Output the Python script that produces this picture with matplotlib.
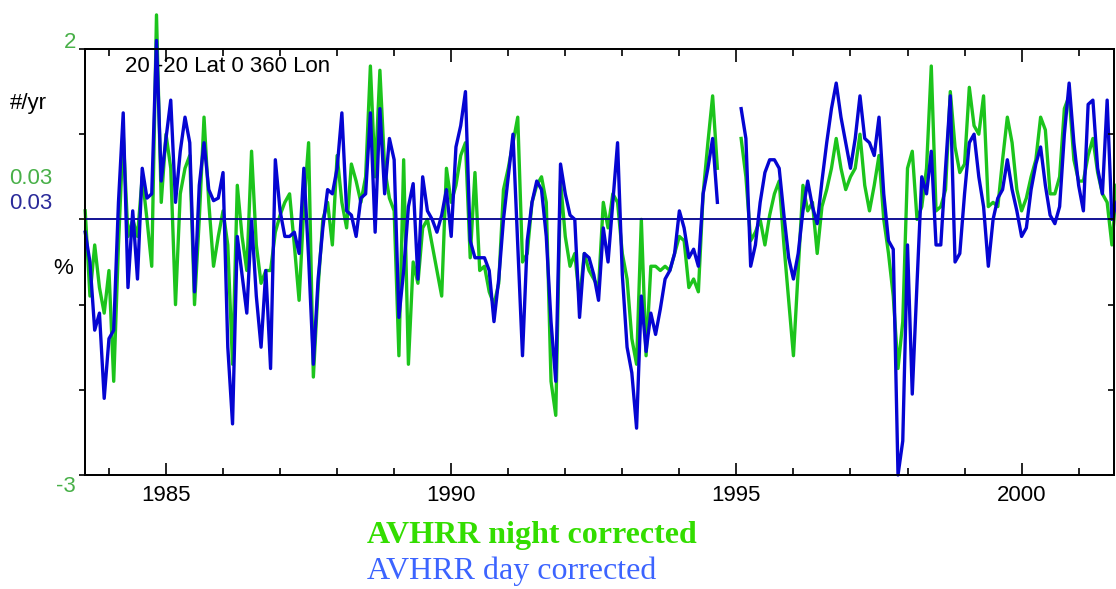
import numpy as np
import matplotlib.pyplot as plt
from matplotlib.ticker import MultipleLocator

# monthly anomalies, first value = Aug 1983
night = [0.1, -0.9, -0.3, -0.8, -1.1, -0.6, -1.9, -0.3, 1.0, -0.2, 0.0, -0.2, 0.5, 0.0, -0.55,
         2.4, 0.2, 1.0, 0.6, -1.0, 0.3, 0.6, 0.75, -1.0, 0.0, 1.2, 0.2, -0.55, -0.2, 0.1,
         -0.3, -1.7, 0.4, -0.2, -0.6, 0.8, -0.3, -0.75, -0.6, -0.6, -0.15, 0.05, 0.2, 0.3, -0.3,
         -0.95, 0.15, 0.9, -1.85, -0.8, 0.0, 0.2, -0.3, 0.75, 0.2, -0.1, 0.65, 0.45, 0.2, 0.5,
         1.8, 0.5, 1.75, 0.6, 0.25, 0.1, -1.6, 0.7, -1.7, -0.5, -0.75, -0.1, 0.0, -0.3, -0.6,
         -0.9, 0.6, 0.2, 0.4, 0.75, 0.9, -0.45, 0.55, -0.6, -0.55, -0.85, -1.0, -0.75,
         0.35, 0.6, 0.9, 1.2, -0.5, -0.4, 0.2, 0.4, 0.5, 0.2, -1.9, -2.3, 0.45, -0.2, -0.55,
         -0.4, -0.95, -0.4, -0.6, -0.7, -0.8, 0.2, -0.1, 0.3, 0.2, -0.4, -0.7, -1.4, -1.7, 0.0,
         -1.6, -0.55, -0.55, -0.6, -0.55, -0.6, -0.4, -0.2, -0.25, -0.8, -0.7, -0.85, 0.3, 0.9,
         1.45, 0.6,
         np.nan, np.nan, np.nan, np.nan,
         0.95, 0.5, -0.25, -0.15, 0.0, -0.3, 0.05, 0.3, 0.45, -0.3, -0.95, -1.6, -0.6, 0.4,
         0.1, 0.2, -0.4, 0.15, 0.35, 0.6, 0.95, 0.6, 0.35, 0.5, 0.6, 1.0, 0.4, 0.1, 0.4, 0.75,
         0.0, -0.4, -0.9, -1.75, -1.2, 0.6,
         0.8, 0.0, 0.15, 0.6, 1.8, 0.1, 0.15, 0.35, 1.5, 0.85, 0.55, 0.65, 1.55, 1.1, 1.0,
         1.45, 0.15, 0.2, 0.15, 0.7, 1.2, 0.9, 0.35, 0.1, 0.25, 0.5, 0.7, 1.2, 1.05, 0.3, 0.3,
         0.5, 1.3, 1.45, 0.7, 0.45, 0.45, 0.75, 0.95, 0.55, 0.3, 0.2, -0.3, 0.4]

day = [-0.15, -0.5, -1.3, -1.1, -2.1, -1.4, -1.3, 0.2, 1.25, -0.8, 0.1, -0.7, 0.6, 0.25, 0.3,
       2.1, 0.45, 0.95, 1.4, 0.2, 0.8, 1.2, 0.9, -0.85, 0.4, 0.9, 0.35, 0.22, 0.25, 0.55,
       -1.5, -2.4, -0.2, -0.65, -1.1, 0.0, -0.9, -1.5, -0.6, -1.75, 0.7, 0.1, -0.2, -0.2, -0.15,
       -0.4, 0.6, -0.45, -1.7, -0.7, -0.1, 0.35, 0.3, 0.6, 1.25, 0.1, 0.05, -0.2, 0.25, 0.3,
       1.25, -0.15, 1.3, 0.3, 0.95, 0.7, -1.15, -0.6, 0.15, 0.42, -0.7, 0.5, 0.1, 0.0, -0.15,
       0.05, 0.35, -0.2, 0.85, 1.1, 1.5, -0.25, -0.45, -0.45, -0.45, -0.6, -1.2, -0.7,
       0.0, 0.5, 1.0, -0.3, -1.6, -0.25, 0.2, 0.45, 0.35, -0.2, -1.2, -1.9, 0.65, 0.3, 0.05,
       0.0, -1.15, -0.4, -0.45, -0.65, -0.95, -0.1, -0.5, 0.2, 0.9, -0.65, -1.5, -1.8, -2.45,
       -0.9, -1.55, -1.1, -1.35, -1.05, -0.7, -0.6, -0.4, 0.1, -0.1, -0.45, -0.35, -0.55, 0.3,
       0.6, 0.95, 0.2,
       np.nan, np.nan, np.nan, np.nan,
       1.3, 0.95, -0.55, -0.3, 0.2, 0.55, 0.7, 0.7, 0.6, 0.05, -0.45, -0.7, -0.4, 0.1, 0.45,
       0.15, -0.05, 0.45, 0.9, 1.3, 1.6, 1.2, 0.9, 0.6, 0.95, 1.45, 0.95, 0.9, 0.75, 1.2, 0.3,
       -0.25, -0.35, -3.0, -2.6, -0.3,
       -2.05, -0.75, 0.5, 0.3, 0.8, -0.3, -0.3, 0.6, 1.45, -0.5, -0.4, 0.3, 0.9, 1.0, 0.5,
       0.15, -0.55, 0.0, 0.25, 0.35, 0.7, 0.35, 0.1, -0.2, -0.1, 0.35, 0.65, 0.85, 0.4, 0.05,
       -0.05, 0.15, 1.0, 1.6, 0.9, 0.4, 0.1, 1.35, 1.4, 0.6, 0.3, 1.4, 0.0, 0.2]

years = 1983 + 7 / 12 + np.arange(len(day)) / 12
major_years = [1985, 1990, 1995, 2000]

W, H = 1116, 589


def fpos(x, y):
    # pixel position -> figure fraction
    return x / W, 1 - y / H


plt.rcParams['font.family'] = ['Liberation Sans', 'DejaVu Sans']

fig = plt.figure(figsize=(W / 100, H / 100), dpi=100)
ax = fig.add_axes([85 / W, 1 - 475 / H, (1114 - 85) / W, (475 - 49) / H])

ax.plot(years, night, color='#1cc41c', lw=2.4, clip_on=False, zorder=3)
ax.axhline(0, color='#00008b', lw=1.3, zorder=4)
ax.plot(years, day, color='#0505d2', lw=2.4, clip_on=False, zorder=5)

ax.set_xlim(1983.58, 2001.62)
ax.set_ylim(-3, 2)
ax.set_xticks(major_years)
ax.xaxis.set_minor_locator(MultipleLocator(1))
ax.set_yticks(range(-3, 3))
ax.set_yticklabels([])
ax.tick_params(axis='x', which='major', direction='in', length=9, width=1.2,
               top=True, labelsize=16, pad=7)
ax.tick_params(axis='x', which='minor', direction='in', length=5, width=1.2, top=True)
ax.tick_params(axis='y', direction='out', length=4.5, width=1.2)

# inward ticks on the right side
ax2 = ax.twinx()
ax2.set_ylim(-3, 2)
ax2.set_yticks(range(-3, 3))
ax2.set_yticklabels([])
ax2.tick_params(axis='y', direction='in', length=4, width=1.2)

for a in (ax, ax2):
    for s in a.spines.values():
        s.set_linewidth(1.3)

ax.text(fpos(125, 0)[0], fpos(0, 67)[1], '20 -20 Lat 0 360 Lon', transform=fig.transFigure,
        fontsize=16, va='center', ha='left')

fig.text(*fpos(76, 42), '2', color='#48b048', fontsize=16, ha='right', va='center')
fig.text(*fpos(76, 486), '-3', color='#48b048', fontsize=16, ha='right', va='center')
fig.text(*fpos(10, 103), '#/yr', fontsize=16, ha='left', va='center')
fig.text(*fpos(9, 178), '0.03', color='#48b048', fontsize=16, ha='left', va='center')
fig.text(*fpos(9, 204), '0.03', color='#2a2a9a', fontsize=16, ha='left', va='center')
fig.text(*fpos(53, 268), '%', fontsize=16, ha='left', va='center')

fig.text(*fpos(367, 535), 'AVHRR night corrected', color='#33dd00', fontsize=23,
         fontweight='bold', family='Liberation Serif', ha='left', va='center')
fig.text(*fpos(367, 571), 'AVHRR day corrected', color='#3c64ff', fontsize=23,
         family='Liberation Serif', ha='left', va='center')

fig.savefig('out.png', dpi=100)
